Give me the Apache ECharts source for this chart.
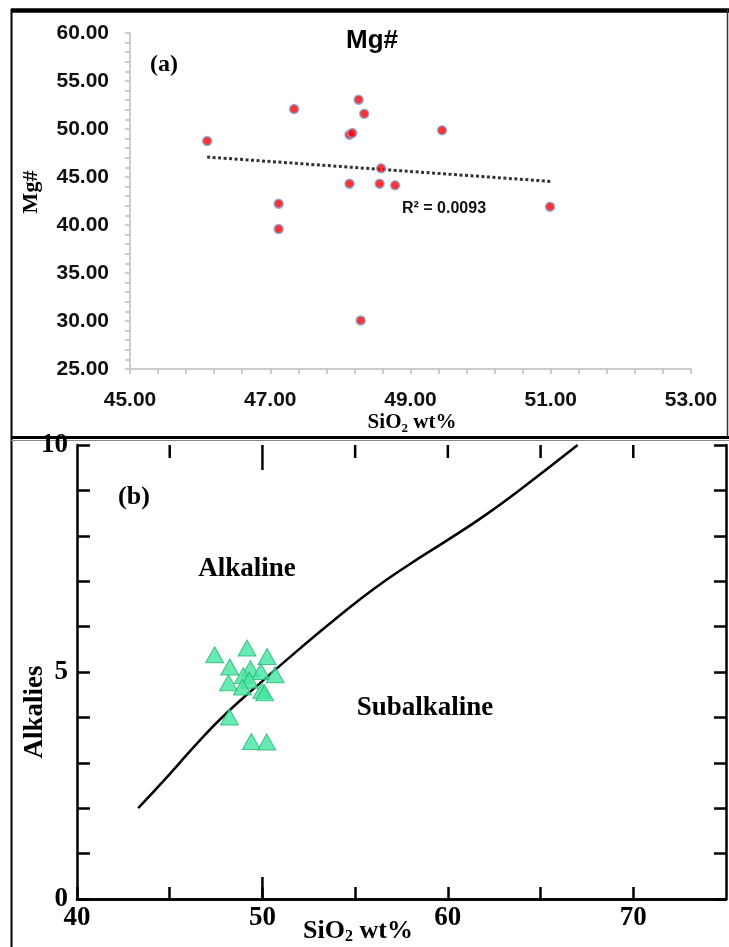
<!DOCTYPE html>
<html lang="en">
<head>
    <meta charset="UTF-8"/>
    <title>Mg# and Alkalies vs SiO2</title>
    <script src="https://cdn.jsdelivr.net/npm/echarts@6/dist/echarts.min.js"></script>
    <style>
        html, body { margin: 0; padding: 0; background: #fff; }
        #main { width: 729px; height: 947px; }
    </style>
</head>
<body>
<div id="main"></div>

<script type="text/javascript">
    // (a) Mg# against SiO2
    var mgSiO2 = [46.10, 47.34, 47.12, 47.12, 48.26, 48.34, 48.13, 48.17, 49.45, 48.58, 48.13, 48.56, 48.78, 48.29, 50.99];
    var mgNumber = [48.75, 52.08, 42.22, 39.58, 53.05, 51.59, 49.41, 49.58, 49.86, 45.90, 44.30, 44.30, 44.13, 30.06, 41.90];
    // dotted trend line
    var trendX = [46.10, 51.00];
    var trendY = [47.08, 44.54];
    var xLabelsA = [45, 47, 49, 51, 53];

    // (b) Alkalies against SiO2
    var alkSiO2 = [47.42, 49.17, 50.25, 48.24, 49.35, 48.97, 49.92, 50.68, 48.17, 49.29, 48.92, 49.97, 50.12, 48.22, 49.40, 50.23];
    var alkValue = [5.38, 5.53, 5.34, 5.11, 5.07, 4.92, 5.01, 4.94, 4.76, 4.82, 4.67, 4.59, 4.54, 4.01, 3.47, 3.46];
    // alkaline / subalkaline boundary
    var curveX = [43.3, 45, 46.5, 48, 50, 52, 54, 56, 58, 60, 62, 64, 67];
    var curveY = [2.0, 2.75, 3.44, 4.07, 4.80, 5.51, 6.19, 6.83, 7.39, 7.91, 8.45, 9.05, 10.0];
    // ticks on the top edge of (b)
    var topTicksB = [45, 50, 55, 60, 65, 70];

    function pairs(xs, ys) {
        var out = [];
        for (var i = 0; i < xs.length; i++) out.push([xs[i], ys[i]]);
        return out;
    }

    // minor ticks of the top x axis every 0.4
    var xTicksA = [];
    for (var t = 0; t <= 20; t++) xTicksA.push(+(45 + t * 0.4).toFixed(1));

    var sans = 'Liberation Sans, Arial, sans-serif';
    var serif = 'Liberation Serif, Times New Roman, serif';
    var grayAxis = '#bdbdbd';

    var myChart = echarts.init(document.getElementById('main'));

    var option = {
        backgroundColor: '#fff',
        animation: false,
        title: {
            text: 'Mg#',
            left: 367,
            top: 23,
            textAlign: 'center',
            textStyle: { fontFamily: sans, fontWeight: 'bold', fontSize: 26, color: '#000' }
        },
        grid: [
            { left: 130, right: 38, top: 33, bottom: 578 },
            { left: 77, right: 3, top: 445, bottom: 48 }
        ],
        xAxis: [
            {
                gridIndex: 0, type: 'value', min: 45, max: 53,
                axisLine: { lineStyle: { color: grayAxis, width: 1.5 } },
                axisTick: { show: true, length: 5, customValues: xTicksA, lineStyle: { color: grayAxis, width: 1.5 } },
                axisLabel: {
                    customValues: xLabelsA, margin: 21,
                    fontFamily: sans, fontWeight: 'bold', fontSize: 21, color: '#111',
                    formatter: function (v) { return v.toFixed(2); }
                },
                splitLine: { show: false }
            },
            {
                gridIndex: 1, type: 'value', min: 40, max: 75, interval: 5, position: 'bottom',
                axisLine: { lineStyle: { color: '#000', width: 2.5 } },
                axisTick: { show: true, inside: true, length: 12, lineStyle: { color: '#000', width: 2.5 } },
                axisLabel: {
                    margin: 6, fontFamily: serif, fontWeight: 'bold', fontSize: 27, color: '#000',
                    showMaxLabel: false,
                    formatter: function (v) { return v % 10 === 0 ? String(v) : ''; }
                },
                splitLine: { show: false }
            },
            {
                gridIndex: 1, type: 'value', min: 40, max: 75, position: 'top',
                axisLine: { show: true, lineStyle: { color: '#000', width: 2.5 } },
                axisTick: { show: false },
                axisLabel: { show: false },
                splitLine: { show: false }
            }
        ],
        yAxis: [
            {
                gridIndex: 0, type: 'value', min: 25, max: 60, interval: 5,
                axisLine: { show: true, lineStyle: { color: grayAxis, width: 1.5 } },
                axisTick: { show: true, length: 5, lineStyle: { color: grayAxis, width: 1.5 } },
                minorTick: { show: true, splitNumber: 5, length: 5, lineStyle: { color: grayAxis, width: 1.5 } },
                axisLabel: {
                    margin: 21, fontFamily: sans, fontWeight: 'bold', fontSize: 21, color: '#111',
                    formatter: function (v) { return v.toFixed(2); }
                },
                splitLine: { show: false }
            },
            {
                gridIndex: 1, type: 'value', min: 0, max: 10, interval: 1, position: 'left',
                axisLine: { show: true, lineStyle: { color: '#000', width: 2.5 } },
                axisTick: { show: true, inside: true, length: 13, lineStyle: { color: '#000', width: 2.5 } },
                axisLabel: {
                    margin: 9, fontFamily: serif, fontWeight: 'bold', fontSize: 27, color: '#000',
                    formatter: function (v) { return v % 5 === 0 ? String(v) : ''; }
                },
                splitLine: { show: false }
            },
            {
                gridIndex: 1, type: 'value', min: 0, max: 10, interval: 1, position: 'right',
                axisLine: { show: true, lineStyle: { color: '#000', width: 2.5 } },
                axisTick: { show: true, inside: true, length: 12, lineStyle: { color: '#000', width: 2.5 } },
                axisLabel: { show: false },
                splitLine: { show: false }
            }
        ],
        series: [
            {
                name: 'trend', type: 'line', xAxisIndex: 0, yAxisIndex: 0,
                data: pairs(trendX, trendY), symbol: 'none', silent: true, z: 2,
                lineStyle: { color: '#333', width: 3, type: [3, 2.5] }
            },
            {
                name: 'Mg#', type: 'scatter', xAxisIndex: 0, yAxisIndex: 0,
                data: pairs(mgSiO2, mgNumber), symbol: 'circle', symbolSize: 9, z: 3,
                itemStyle: { color: '#ff0000', borderColor: '#7ea7dc', borderWidth: 1.5 }
            },
            {
                name: 'boundary', type: 'line', xAxisIndex: 1, yAxisIndex: 1,
                data: pairs(curveX, curveY), symbol: 'none', smooth: true, silent: true, z: 2,
                lineStyle: { color: '#000', width: 2.5 }
            },
            {
                name: 'Alkalies', type: 'scatter', xAxisIndex: 1, yAxisIndex: 1,
                data: pairs(alkSiO2, alkValue), symbol: 'triangle', symbolSize: [18, 16], z: 3,
                itemStyle: { color: '#42e6a0', borderColor: '#26b377', borderWidth: 1 }
            }
        ],
        graphic: [
            // panel frames
            { type: 'line', shape: { x1: 11, y1: 10.5, x2: 729, y2: 10.5 }, style: { stroke: '#000', lineWidth: 4.5 } },
            { type: 'line', shape: { x1: 11.5, y1: 9, x2: 11.5, y2: 947 }, style: { stroke: '#000', lineWidth: 2 } },
            { type: 'line', shape: { x1: 727.5, y1: 9, x2: 727.5, y2: 437 }, style: { stroke: '#333', lineWidth: 1.5 } },
            { type: 'line', shape: { x1: 11, y1: 437.5, x2: 729, y2: 437.5 }, style: { stroke: '#000', lineWidth: 3 } },
            { type: 'line', shape: { x1: 11, y1: 440.5, x2: 729, y2: 440.5 }, style: { stroke: '#888', lineWidth: 1 } },
            // texts of (a)
            { type: 'text', x: 164, y: 65, style: { text: '(a)', fontFamily: serif, fontWeight: 'bold', fontSize: 24, fill: '#000', align: 'center', verticalAlign: 'middle' } },
            { type: 'text', x: 402, y: 209, style: { text: 'R\u00b2 = 0.0093', fontFamily: sans, fontWeight: 'bold', fontSize: 16, fill: '#111', align: 'left', verticalAlign: 'middle' } },
            { type: 'text', x: 31, y: 192, rotation: Math.PI / 2, style: { text: 'Mg#', fontFamily: serif, fontWeight: 'bold', fontSize: 22, fill: '#000', align: 'center', verticalAlign: 'middle' } },
            {
                type: 'text', x: 412, y: 423, style: {
                    text: '{a|SiO}{s|2}{a| wt%}', align: 'center', verticalAlign: 'middle',
                    rich: {
                        a: { fontFamily: serif, fontWeight: 'bold', fontSize: 21, fill: '#000', lineHeight: 24 },
                        s: { fontFamily: serif, fontWeight: 'bold', fontSize: 13, fill: '#000', verticalAlign: 'bottom', lineHeight: 13, padding: [8, 0, 0, 0] }
                    }
                }
            },
            // texts of (b)
            { type: 'text', x: 134, y: 497, style: { text: '(b)', fontFamily: serif, fontWeight: 'bold', fontSize: 26, fill: '#000', align: 'center', verticalAlign: 'middle' } },
            { type: 'text', x: 247, y: 569, style: { text: 'Alkaline', fontFamily: serif, fontWeight: 'bold', fontSize: 27, fill: '#000', align: 'center', verticalAlign: 'middle' } },
            { type: 'text', x: 425, y: 708, style: { text: 'Subalkaline', fontFamily: serif, fontWeight: 'bold', fontSize: 27, fill: '#000', align: 'center', verticalAlign: 'middle' } },
            { type: 'text', x: 35, y: 712, rotation: Math.PI / 2, style: { text: 'Alkalies', fontFamily: serif, fontWeight: 'bold', fontSize: 27, fill: '#000', align: 'center', verticalAlign: 'middle' } },
            {
                type: 'text', x: 358, y: 931, style: {
                    text: '{a|SiO}{s|2}{a| wt%}', align: 'center', verticalAlign: 'middle',
                    rich: {
                        a: { fontFamily: serif, fontWeight: 'bold', fontSize: 26, fill: '#000', lineHeight: 28 },
                        s: { fontFamily: serif, fontWeight: 'bold', fontSize: 16, fill: '#000', verticalAlign: 'bottom', lineHeight: 16, padding: [16, 0, 0, 0] }
                    }
                }
            }
        ]
    };

    myChart.setOption(option);

    // ticks on the top edge of (b) and the longer ticks at SiO2 = 50, placed through the axis scale
    var yBottom = myChart.convertToPixel({ yAxisIndex: 1 }, 0);
    var yTop = myChart.convertToPixel({ yAxisIndex: 1 }, 10);
    topTicksB.forEach(function (v) {
        var px = myChart.convertToPixel({ xAxisIndex: 1 }, v);
        var len = v === 50 ? 25 : 13;
        option.graphic.push({ type: 'line', shape: { x1: px, y1: yTop, x2: px, y2: yTop + len }, style: { stroke: '#000', lineWidth: 2.5 } });
    });
    var x50 = myChart.convertToPixel({ xAxisIndex: 1 }, 50);
    option.graphic.push({ type: 'line', shape: { x1: x50, y1: yBottom, x2: x50, y2: yBottom - 22 }, style: { stroke: '#000', lineWidth: 2.5 } });
    myChart.setOption(option, true);
</script>
</body>
</html>
